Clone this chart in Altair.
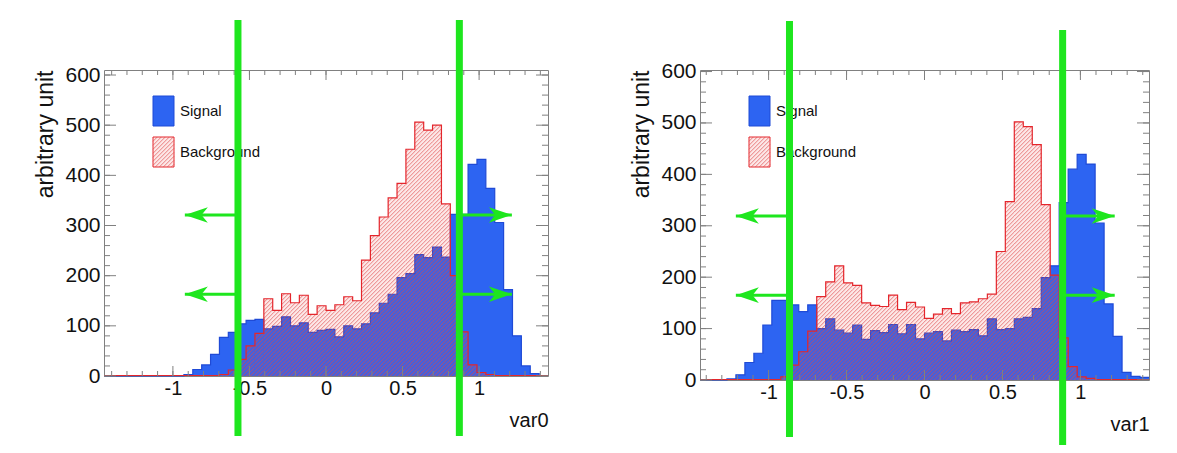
import math
import numpy as np
import pandas as pd
import altair as alt

FONT = "Liberation Sans"

# ---------------- data ----------------
var0_range = [-1.45, 1.45]
var0_signal = [0, 0, 0, 0, 0, 0, 0, 0, 0, 3,
               13, 22, 43, 77, 87, 104, 111, 113, 94, 99,
               118, 100, 106, 87, 91, 93, 78, 100, 94, 104,
               126, 145, 163, 196, 204, 242, 236, 257, 237, 322,
               322, 422, 432, 374, 306, 172, 80, 20, 5, 1]
var0_background = [1, 1, 1, 1, 1, 1, 1, 1, 1, 1,
                   1, 1, 1, 3, 12, 33, 60, 85, 154, 131,
                   164, 146, 161, 123, 140, 131, 142, 158, 150, 231,
                   280, 317, 355, 384, 452, 506, 490, 500, 343, 200,
                   88, 22, 7, 3, 1, 1, 1, 1, 1, 1]
var0_cuts = [-0.575, 0.871]
var0_arrow_tips = [-0.922, 1.214]
var0_arrow_levels = [321, 163]

var1_range = [-1.44, 1.44]
var1_signal = [0, 0, 0, 2, 10, 34, 52, 107, 155, 155,
               146, 133, 146, 100, 119, 97, 91, 107, 79, 96,
               92, 108, 90, 108, 80, 91, 94, 76, 97, 94,
               98, 86, 119, 98, 100, 119, 122, 139, 199, 222,
               345, 410, 439, 420, 305, 148, 85, 15, 7, 5]
var1_background = [1, 1, 1, 1, 1, 1, 1, 1, 1, 6,
                   29, 55, 95, 162, 191, 222, 189, 184, 150, 145,
                   143, 165, 137, 151, 142, 120, 128, 139, 129, 150,
                   152, 158, 167, 250, 347, 502, 493, 458, 341, 204,
                   82, 26, 6, 3, 1, 1, 1, 1, 1, 1]
var1_cuts = [-0.866, 0.886]
var1_arrow_tips = [-1.21, 1.22]
var1_arrow_levels = [319, 165]

y_tick_labels = [0, 100, 200, 300, 400, 500, 600]
x_tick_labels = [-1, -0.5, 0, 0.5, 1]
legend_labels = ["Signal", "Background"]
y_titles = ["arbitrary unit", "arbitrary unit"]
x_titles = ["var0", "var1"]

# ---------------- styles ----------------
SIG_FILL = "#2d64f2"
SIG_EDGE = "#1f4ad6"
BKG_EDGE = "#e4262c"
HATCH = "#e04848"
TINT = "rgba(230,70,70,0.13)"
GREEN = "#1ee61e"
FRAME = "#808080"
TXT = "#111111"
HATCH_STEP = 4.0


def hatch_rect_px(xa, xb, yt, yb, step=HATCH_STEP):
    """45-degree '/' hatch segments clipped to a pixel rectangle."""
    segs = []
    if yb - yt < 0.5:
        return segs
    j0 = math.ceil((xa + yt) / step)
    j1 = math.floor((xb + yb) / step)
    for j in range(j0, j1 + 1):
        c = j * step + 0.3
        x1 = max(xa, c - yb)
        x2 = min(xb, c - yt)
        if x2 - x1 > 0.05:
            segs.append((x1, c - x1, x2, c - x2))
    return segs


def step_df(values, lo, hi):
    edges = np.linspace(lo, hi, len(values) + 1)
    return pd.DataFrame({"x": edges, "y": list(values) + [values[-1]]})


def panel(signal, background, xr, ymax, W, H, xtitle, ytitle,
          cuts, tips, levels, cut_extents):
    lo, hi = xr
    xs = alt.Scale(domain=[lo, hi], nice=False, zero=False)
    ys = alt.Scale(domain=[0, ymax], nice=False, zero=False)

    def to_data(segs):
        a = np.array(segs, dtype=float).reshape(-1, 4)
        return pd.DataFrame({
            "hx1": lo + a[:, 0] / W * (hi - lo),
            "hy1": (H - a[:, 1]) / H * ymax,
            "hx2": lo + a[:, 2] / W * (hi - lo),
            "hy2": (H - a[:, 3]) / H * ymax,
        })

    xaxis = alt.Axis(values=x_tick_labels, labelExpr="datum.value + ''",
                     ticks=False, domain=False, grid=False, title=xtitle,
                     titleAnchor="end", labelFontSize=20, titleFontSize=20,
                     labelPadding=2, titlePadding=12, labelFont=FONT,
                     titleFont=FONT, titleFontWeight="normal",
                     labelColor=TXT, titleColor=TXT, labelFlush=False,
                     labelOverlap=False)
    yaxis = alt.Axis(values=y_tick_labels, format="d", ticks=False,
                     domain=False, grid=False, title=ytitle,
                     titleAnchor="end", labelFontSize=21, titleFontSize=23,
                     labelPadding=4, titlePadding=7, labelFont=FONT,
                     titleFont=FONT, titleFontWeight="normal",
                     labelColor=TXT, titleColor=TXT, labelFlush=False,
                     labelOverlap=False)

    def X(f):
        return alt.X(f"{f}:Q", scale=xs, axis=xaxis)

    def Y(f):
        return alt.Y(f"{f}:Q", scale=ys, axis=yaxis)

    sdf = step_df(signal, lo, hi)
    bdf = step_df(background, lo, hi)

    sig_area = alt.Chart(sdf).mark_area(
        interpolate="step-after", fill=SIG_FILL, opacity=1
    ).encode(x=X("x"), y=Y("y"))
    sig_line = alt.Chart(sdf).mark_line(
        interpolate="step-after", color=SIG_EDGE, strokeWidth=1.2
    ).encode(x=X("x"), y=Y("y"))

    bkg_tint = alt.Chart(bdf).mark_area(
        interpolate="step-after", fill=TINT, opacity=1
    ).encode(x=X("x"), y=Y("y"))

    # hatch of the background histogram, bin by bin
    bw = W / len(background)
    segs = []
    for k, v in enumerate(background):
        segs += hatch_rect_px(k * bw, (k + 1) * bw, H - v / ymax * H, H)
    hatch = alt.Chart(to_data(segs)).mark_rule(
        color=HATCH, strokeWidth=0.9, opacity=0.75
    ).encode(x=X("hx1"), y=Y("hy1"), x2="hx2", y2="hy2")
    bkg_line = alt.Chart(bdf).mark_line(
        interpolate="step-after", color=BKG_EDGE, strokeWidth=1.2
    ).encode(x=X("x"), y=Y("y"))

    # inward ticks (ROOT style frame)
    x_minor = pd.DataFrame({"x": np.round(np.arange(-1.4, 1.41, 0.1), 2)})
    x_major = pd.DataFrame({"x": x_tick_labels})
    y_minor = pd.DataFrame({"y": np.arange(0, 601, 20)})
    y_major = pd.DataFrame({"y": y_tick_labels})
    tick = dict(color=FRAME, strokeWidth=1)
    ticks = [
        alt.Chart(x_minor).mark_rule(**tick).encode(x=X("x"), y=alt.value(H), y2=alt.value(H - 5)),
        alt.Chart(x_major).mark_rule(**tick).encode(x=X("x"), y=alt.value(H), y2=alt.value(H - 10)),
        alt.Chart(x_minor).mark_rule(**tick).encode(x=X("x"), y=alt.value(0), y2=alt.value(5)),
        alt.Chart(x_major).mark_rule(**tick).encode(x=X("x"), y=alt.value(0), y2=alt.value(10)),
        alt.Chart(y_minor).mark_rule(**tick).encode(y=Y("y"), x=alt.value(0), x2=alt.value(6)),
        alt.Chart(y_major).mark_rule(**tick).encode(y=Y("y"), x=alt.value(0), x2=alt.value(12)),
        alt.Chart(y_minor).mark_rule(**tick).encode(y=Y("y"), x=alt.value(W), x2=alt.value(W - 6)),
        alt.Chart(y_major).mark_rule(**tick).encode(y=Y("y"), x=alt.value(W), x2=alt.value(W - 12)),
    ]

    # legend box
    leg_sig = pd.DataFrame({"label": [legend_labels[0]]})
    leg_bkg = pd.DataFrame({"label": [legend_labels[1]]})
    legend = [
        alt.Chart(leg_sig).mark_rect(fill=SIG_FILL, stroke=SIG_EDGE, strokeWidth=1).encode(
            x=alt.value(49), x2=alt.value(70), y=alt.value(26), y2=alt.value(56)),
        alt.Chart(leg_bkg).mark_rect(fill=TINT, stroke=BKG_EDGE, strokeWidth=1).encode(
            x=alt.value(49), x2=alt.value(70), y=alt.value(67), y2=alt.value(97)),
        alt.Chart(to_data(hatch_rect_px(49, 70, 67, 97))).mark_rule(
            color=HATCH, strokeWidth=0.9, opacity=0.75
        ).encode(x=X("hx1"), y=Y("hy1"), x2="hx2", y2="hy2"),
        alt.Chart(leg_sig).mark_text(align="left", baseline="middle", fontSize=15, font=FONT, color=TXT).encode(
            x=alt.value(76), y=alt.value(41), text="label:N"),
        alt.Chart(leg_bkg).mark_text(align="left", baseline="middle", fontSize=15, font=FONT, color=TXT).encode(
            x=alt.value(76), y=alt.value(82), text="label:N"),
    ]

    # green cut lines
    greens = []
    for c, (top, bot) in zip(cuts, cut_extents):
        greens.append(alt.Chart(pd.DataFrame({"x": [c]})).mark_rule(
            color=GREEN, strokeWidth=7).encode(x=X("x"), y=alt.value(top), y2=alt.value(bot)))

    adf = pd.DataFrame({
        "x_from": [cuts[0], cuts[0], cuts[1], cuts[1]],
        "x_to": [tips[0], tips[0], tips[1], tips[1]],
        "level": [levels[0], levels[1], levels[0], levels[1]],
        "dir": ["left", "left", "right", "right"],
    })
    shafts = alt.Chart(adf).mark_rule(color=GREEN, strokeWidth=3).encode(
        x=X("x_from"), x2="x_to", y=Y("level"))
    head_l = alt.Chart(adf[adf["dir"] == "left"]).mark_point(
        shape="M0,0 L2,-0.68 L1.45,0 L2,0.68 Z", size=529, filled=True,
        color=GREEN, opacity=1, strokeWidth=0).encode(x=X("x_to"), y=Y("level"))
    head_r = alt.Chart(adf[adf["dir"] == "right"]).mark_point(
        shape="M0,0 L-2,-0.68 L-1.45,0 L-2,0.68 Z", size=529, filled=True,
        color=GREEN, opacity=1, strokeWidth=0).encode(x=X("x_to"), y=Y("level"))

    layers = ([sig_area, sig_line, bkg_tint, hatch, bkg_line] + ticks + legend
              + greens + [shafts, head_l, head_r])
    return alt.layer(*layers).properties(width=W, height=H)


left = panel(var0_signal, var0_background, var0_range, 610, 444, 306,
             x_titles[0], y_titles[0], var0_cuts, var0_arrow_tips,
             var0_arrow_levels, [(-50, 366), (-50, 366)])
right = panel(var1_signal, var1_background, var1_range, 603, 449, 310,
              x_titles[1], y_titles[1], var1_cuts, var1_arrow_tips,
              var1_arrow_levels, [(-49, 367), (-40, 375)])

chart = alt.hconcat(left, right, spacing=79).properties(
    padding={"left": 26, "top": 8, "right": 5, "bottom": 5},
    background="white",
).configure_view(stroke=FRAME, strokeWidth=1, fill="white")

chart.save("out.html", embed_options={"renderer": "svg", "actions": False})
